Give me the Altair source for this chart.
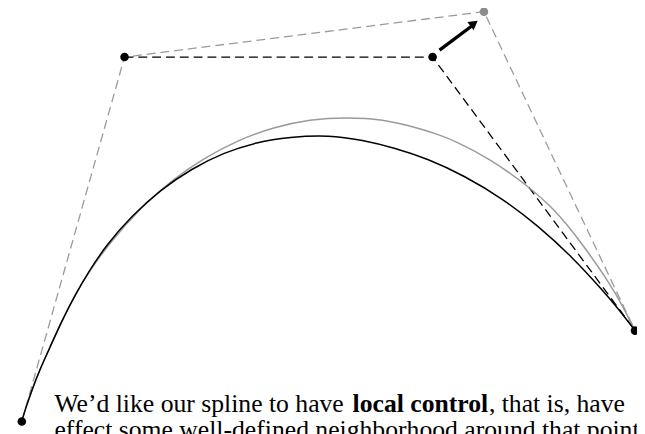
import altair as alt
import pandas as pd

# ---- data (image pixel coordinates) ----
ctrl_x = [22, 126, 438, 643]          # P0, P1, P2, P3
ctrl_y = [424, 55, 55, 332]
moved_x = [490]                        # moved P2 (grey)
moved_y = [9]

black_x = [22, 25, 33, 40, 50, 63, 77, 90, 107, 133, 163, 194, 226, 260, 293,
           333, 367, 400, 433, 470, 510, 545, 579, 611, 627, 643]
black_y = [424, 413, 390, 372, 350, 321, 294, 272, 246, 216, 189, 168, 152, 141, 136,
           134, 139, 147, 158, 175, 199, 226, 257, 292, 311, 332]

grey_x = [22, 25, 33, 40, 50, 63, 77, 90, 112, 141, 173, 207, 241, 277, 314,
          350, 388, 420, 443, 461, 496, 530, 562, 591, 618, 631, 643]
grey_y = [424, 413, 390, 372, 350, 321, 294, 272, 242, 209, 180, 157, 139, 126, 118,
          116, 118, 126, 133, 140, 158, 182, 209, 246, 285, 308, 332]

arrow_x = [445, 477]
arrow_y = [48, 24]
head_x = [480]
head_y = [21]

normal_parts = ["We\u2019d like our spline to have ", ", that is, have",
                "effect some well-defined neighborhood around that point"]
normal_x = [55, 495, 55]
normal_y = [414, 414, 441]
bold_parts = ["local control"]
bold_x = [357]
bold_y = [414]

W, H = 637, 426
XS = alt.Scale(domain=[8, 645], nice=False, zero=False)
YS = alt.Scale(domain=[8, 434], nice=False, zero=False, reverse=True)


def enc(order=False):
    e = dict(x=alt.X("x:Q", scale=XS, axis=None), y=alt.Y("y:Q", scale=YS, axis=None))
    if order:
        e["order"] = alt.Order("i:Q")
    return e


grey_poly = pd.DataFrame({"x": [ctrl_x[0], ctrl_x[1], moved_x[0], ctrl_x[3]],
                          "y": [ctrl_y[0], ctrl_y[1], moved_y[0], ctrl_y[3]],
                          "i": [0, 1, 2, 3]})
black_poly = pd.DataFrame({"x": ctrl_x[1:], "y": ctrl_y[1:], "i": [0, 1, 2]})

l_grey_poly = alt.Chart(grey_poly).mark_line(
    color="#9a9a9a", strokeWidth=1.3, strokeDash=[9, 5]).encode(**enc(True))
l_black_poly = alt.Chart(black_poly).mark_line(
    color="#000000", strokeWidth=1.3, strokeDash=[9, 5]).encode(**enc(True))

l_grey_curve = alt.Chart(pd.DataFrame({"x": grey_x, "y": grey_y})).mark_line(
    color="#9a9a9a", strokeWidth=1.5, interpolate="basis").encode(**enc())
l_black_curve = alt.Chart(pd.DataFrame({"x": black_x, "y": black_y})).mark_line(
    color="#000000", strokeWidth=1.5, interpolate="basis").encode(**enc())

l_pts = alt.Chart(pd.DataFrame({"x": ctrl_x, "y": ctrl_y})).mark_point(
    filled=True, color="#000000", opacity=1, size=75, shape="circle").encode(**enc())
l_moved = alt.Chart(pd.DataFrame({"x": moved_x, "y": moved_y})).mark_point(
    filled=True, color="#8c8c8c", opacity=1, size=75, shape="circle").encode(**enc())

l_arrow = alt.Chart(pd.DataFrame({"x": arrow_x, "y": arrow_y, "i": [0, 1]})).mark_line(
    color="#000000", strokeWidth=3.4).encode(**enc(True))
l_head = alt.Chart(pd.DataFrame({"x": head_x, "y": head_y})).mark_point(
    filled=True, color="#000000", opacity=1, size=110, shape="triangle-up",
    angle=53).encode(**enc())

l_text = alt.Chart(pd.DataFrame({"x": normal_x, "y": normal_y, "t": normal_parts})).mark_text(
    align="left", baseline="alphabetic", font="Liberation Serif", fontSize=26,
    color="#000000").encode(**enc(), text="t:N")
l_bold = alt.Chart(pd.DataFrame({"x": bold_x, "y": bold_y, "t": bold_parts})).mark_text(
    align="left", baseline="alphabetic", font="Liberation Serif", fontSize=26,
    fontWeight="bold", color="#000000").encode(**enc(), text="t:N")

chart = alt.layer(
    l_grey_poly, l_black_poly, l_grey_curve, l_black_curve,
    l_arrow, l_head, l_pts, l_moved, l_text, l_bold
).properties(
    width=W, height=H, autosize=alt.AutoSizeParams(type="none"), padding=0,
    background="white"
).configure_view(stroke=None)

chart.save("out.html", embed_options={"renderer": "svg", "actions": False})
